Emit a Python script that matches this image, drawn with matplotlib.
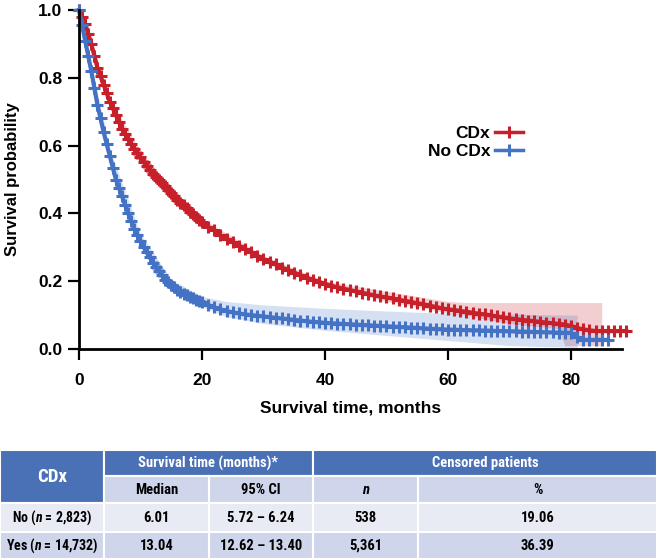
import numpy as np
import matplotlib
matplotlib.use("Agg")
import matplotlib.pyplot as plt
from matplotlib.patches import Rectangle

plt.rcParams['font.family'] = ['Liberation Sans', 'DejaVu Sans']
plt.rcParams['mathtext.fontset'] = 'custom'
plt.rcParams['mathtext.bfit'] = 'Roboto Condensed:italic:bold'
plt.rcParams['mathtext.it'] = 'Roboto Condensed:italic'
plt.rcParams['mathtext.bf'] = 'Roboto Condensed:bold'
plt.rcParams['mathtext.rm'] = 'Roboto Condensed'

# Kaplan-Meier estimates: half-month steps to 20 months, then monthly
months_cdx = [i * 0.5 for i in range(40)] + list(range(20, 90))
surv_cdx = [1.00, 0.98, 0.96, 0.93, 0.90, 0.865, 0.83, 0.805, 0.78, 0.755,
            0.73, 0.71, 0.69, 0.67, 0.65, 0.635, 0.62, 0.605, 0.59, 0.577,
            0.565, 0.552, 0.54, 0.527, 0.515, 0.507, 0.50, 0.49, 0.48, 0.47,
            0.46, 0.45, 0.44, 0.432, 0.425, 0.415, 0.405, 0.397, 0.39, 0.382,
            0.375, 0.36, 0.35, 0.335, 0.325, 0.315, 0.305, 0.295, 0.285, 0.275,
            0.265, 0.257, 0.25, 0.24, 0.233, 0.225, 0.218, 0.21, 0.204, 0.198,
            0.192, 0.187, 0.182, 0.178, 0.174, 0.17, 0.166, 0.162, 0.158, 0.155,
            0.152, 0.149, 0.145, 0.142, 0.139, 0.135, 0.132, 0.128, 0.124, 0.12,
            0.117, 0.115, 0.112, 0.11, 0.107, 0.104, 0.102, 0.099, 0.096, 0.093,
            0.09, 0.088, 0.086, 0.084, 0.082, 0.08, 0.078, 0.076, 0.074, 0.072,
            0.068, 0.062, 0.058, 0.055, 0.053, 0.053, 0.053, 0.053, 0.053, 0.053]

months_nocdx = [i * 0.5 for i in range(40)] + list(range(20, 87))
surv_nocdx = [1.00, 0.955, 0.91, 0.865, 0.82, 0.77, 0.72, 0.68, 0.64, 0.605,
              0.57, 0.535, 0.50, 0.475, 0.45, 0.425, 0.40, 0.377, 0.355, 0.337,
              0.32, 0.302, 0.285, 0.27, 0.255, 0.242, 0.23, 0.217, 0.205, 0.197,
              0.19, 0.182, 0.175, 0.169, 0.163, 0.158, 0.153, 0.149, 0.145, 0.141,
              0.138, 0.13, 0.123, 0.117, 0.112, 0.108, 0.105, 0.102, 0.10, 0.098,
              0.096, 0.094, 0.092, 0.09, 0.088, 0.086, 0.084, 0.082, 0.08, 0.079,
              0.077, 0.076, 0.075, 0.074, 0.073, 0.072, 0.071, 0.07, 0.069, 0.068,
              0.067, 0.066, 0.065, 0.064, 0.063, 0.062, 0.061, 0.06, 0.059, 0.058,
              0.057, 0.057, 0.056, 0.056, 0.055, 0.055, 0.054, 0.054, 0.053, 0.053,
              0.052, 0.052, 0.051, 0.051, 0.05, 0.05, 0.049, 0.049, 0.048, 0.048,
              0.047, 0.035, 0.027, 0.027, 0.027, 0.027, 0.027]

# 95% confidence bands
ci_t_cdx = [0, 5, 10, 15, 20, 30, 40, 45, 50, 55, 60, 63, 70, 78, 79, 85]
ci_lo_cdx = [1.0, 0.72, 0.55, 0.45, 0.365, 0.255, 0.185, 0.165, 0.14, 0.125, 0.105, 0.10, 0.075, 0.06, 0.01, 0.01]
ci_hi_cdx = [1.0, 0.74, 0.58, 0.47, 0.385, 0.275, 0.20, 0.185, 0.17, 0.155, 0.14, 0.137, 0.137, 0.137, 0.137, 0.137]

ci_t_nocdx = [0, 5, 10, 15, 20, 24, 30, 40, 50, 60, 70, 80, 81]
ci_lo_nocdx = [1.0, 0.55, 0.30, 0.175, 0.125, 0.095, 0.075, 0.055, 0.04, 0.025, 0.01, 0.005, 0.005]
ci_hi_nocdx = [1.0, 0.59, 0.34, 0.205, 0.155, 0.14, 0.13, 0.12, 0.112, 0.105, 0.103, 0.10, 0.10]

# table contents
row_labels = ["No ($\\boldsymbol{n}$ = 2,823)", "Yes ($\\boldsymbol{n}$ = 14,732)"]
median_os = ["6.01", "13.04"]
ci_os = ["5.72 \u2013 6.24", "12.62 \u2013 13.40"]
censored_n = ["538", "5,361"]
censored_pct = ["19.06", "36.39"]

red = "#c8202a"
blue = "#4472c4"

fig = plt.figure(figsize=(6.57, 5.6), dpi=100)
ax = fig.add_axes([79 / 657, 1 - 349 / 560, 543 / 657, 339 / 560])

ax.fill_between(ci_t_cdx, ci_lo_cdx, ci_hi_cdx, color=red, alpha=0.22, lw=0)
ax.fill_between(ci_t_nocdx, ci_lo_nocdx, ci_hi_nocdx, color=blue, alpha=0.22, lw=0)

ax.plot(months_cdx, surv_cdx, color=red, lw=3, marker="+",
        ms=8, mew=2.2, label="CDx", clip_on=False)
ax.plot(months_nocdx, surv_nocdx, color=blue, lw=3, marker="+",
        ms=8, mew=2.2, label="No CDx", clip_on=False)

ax.set_xlim(0, 88.3)
ax.set_ylim(0, 1.0)
ax.set_xticks([0, 20, 40, 60, 80])
ax.set_yticks([0, 0.2, 0.4, 0.6, 0.8, 1.0])
ax.set_yticklabels(["0.0", "0.2", "0.4", "0.6", "0.8", "1.0"])
for s in ["top", "right"]:
    ax.spines[s].set_visible(False)
for s in ["left", "bottom"]:
    ax.spines[s].set_linewidth(2)
ax.tick_params(direction="out", length=8, width=1.6, labelsize=12.5, pad=4)
ax.tick_params(axis="x", pad=9)
for lab in ax.get_xticklabels() + ax.get_yticklabels():
    lab.set_fontweight("bold")
ax.set_xlabel("Survival time, months", fontsize=12.5, fontweight="bold", labelpad=9)
ax.set_ylabel("Survival probability", fontsize=12, fontweight="bold", labelpad=13)

leg = ax.legend(loc="center", bbox_to_anchor=(0.73, 0.61), frameon=False,
                markerfirst=False, prop={"weight": "bold", "size": 12.5},
                handlelength=1.6, handletextpad=0.3, labelspacing=0.15)
for h in leg.legend_handles:
    h.set_linewidth(2.5)

# table
tax = fig.add_axes([0, 0, 1, 1])
tax.set_xlim(0, 657)
tax.set_ylim(560, 0)
tax.axis("off")

hdr = "#4a70b5"
light1 = "#cfd5ea"
light2 = "#e8ebf4"
ys = [450, 476, 503, 532, 559]
xs = [0, 104, 209, 313, 418, 657]
tfont = ['Roboto Condensed', 'Archivo Narrow', 'Liberation Sans', 'DejaVu Sans']


def cell(x0, x1, y0, y1, color, text, tc="black", size=10.5, style="normal"):
    tax.add_patch(Rectangle((x0, y0), x1 - x0, y1 - y0, facecolor=color,
                            edgecolor="white", lw=1.5))
    tax.text((x0 + x1) / 2, (y0 + y1) / 2, text, ha="center", va="center",
             color=tc, fontsize=size, fontweight="bold", style=style, family=tfont)


cell(xs[0], xs[1], ys[0], ys[2], hdr, "CDx", tc="white", size=13.5)
cell(xs[1], xs[3], ys[0], ys[1], hdr, "Survival time (months)*", tc="white")
cell(xs[3], xs[5], ys[0], ys[1], hdr, "Censored patients", tc="white")
cell(xs[1], xs[2], ys[1], ys[2], light1, "Median")
cell(xs[2], xs[3], ys[1], ys[2], light1, "95% CI")
cell(xs[3], xs[4], ys[1], ys[2], light1, "n", style="italic")
cell(xs[4], xs[5], ys[1], ys[2], light1, "%")
for i in range(2):
    c = light2 if i == 0 else light1
    cols = [row_labels[i], median_os[i], ci_os[i], censored_n[i], censored_pct[i]]
    for j, txt in enumerate(cols):
        cell(xs[j], xs[j + 1], ys[i + 2], ys[i + 3], c, txt, size=10 if j == 0 else 10.5)

fig.savefig("out.png", dpi=100)
